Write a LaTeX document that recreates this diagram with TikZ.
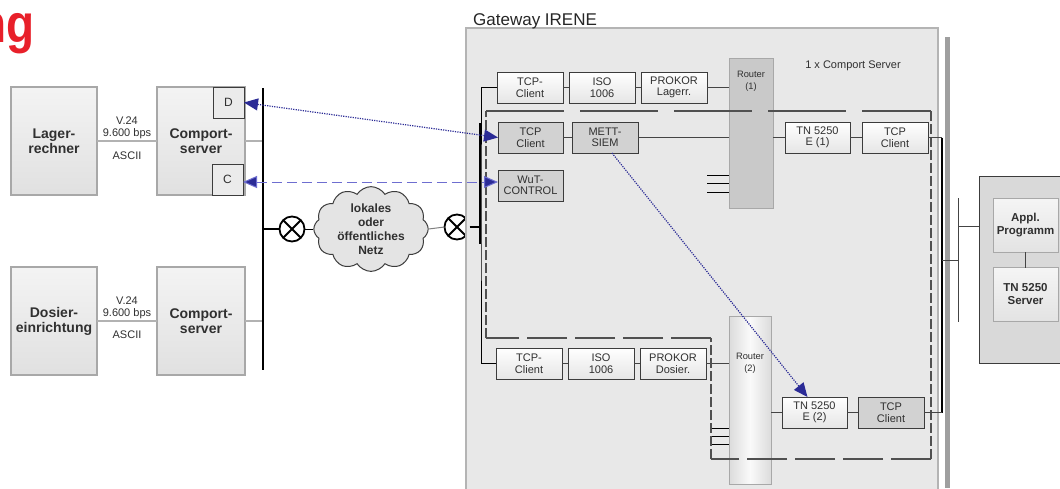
\documentclass[tikz,border=0pt]{standalone}
\usepackage{fontspec}
\setmainfont{Liberation Sans}
\usetikzlibrary{arrows.meta,shapes.symbols,calc}

\definecolor{titlered}{HTML}{E8202A}
\definecolor{gwfill}{HTML}{E8E8E8}
\definecolor{gwedge}{HTML}{B4B4B4}
\definecolor{boxedge}{HTML}{A8A8A8}
\definecolor{darkedge}{HTML}{3C3C3C}
\definecolor{linegrey}{HTML}{444444}
\definecolor{txt}{HTML}{303030}
\definecolor{framegrey}{HTML}{505050}
\definecolor{arrowblue}{HTML}{2B2B96}
\definecolor{dashblue}{HTML}{6E6ED0}
\definecolor{greybox}{HTML}{D2D2D2}
\definecolor{routerfill}{HTML}{C9C9C9}
\definecolor{cloudfill}{HTML}{E4E4E4}

\begin{document}
\begin{tikzpicture}[x=1pt,y=-1pt,
  lnk/.style={draw=linegrey,line width=0.9pt},
  bigbox/.style={draw=boxedge,line width=1.2pt,top color=gray!9,bottom color=gray!24,
    minimum width=86pt,minimum height=108pt,inner sep=0pt,outer sep=0pt,align=center,
    text=txt,font=\bfseries\fontsize{14}{15}\selectfont},
  portbox/.style={draw=darkedge,line width=1pt,fill=gray!16,minimum width=31pt,minimum height=31pt,
    inner sep=0pt,outer sep=0pt,text=txt,font=\fontsize{12}{13}\selectfont},
  speedlbl/.style={inner sep=0pt,text=txt,font=\fontsize{11}{12}\selectfont},
  gwbase/.style={draw=darkedge,line width=1pt,minimum width=66pt,minimum height=31pt,
    inner sep=0pt,outer sep=0pt,align=center,text=txt,font=\fontsize{11}{11.5}\selectfont},
  gwbox/.style={gwbase,top color=white,bottom color=gray!20},
  gwgrey/.style={gwbase,fill=greybox},
  router/.style={draw=boxedge,line width=1pt,inner sep=0pt,outer sep=0pt},
  routerlbl/.style={inner sep=0pt,align=center,text=txt,font=\fontsize{9.3}{12}\selectfont},
  xcirc/.style={circle,draw=black,line width=1.8pt,fill=white,minimum size=25pt,inner sep=0pt,outer sep=0pt,
    path picture={\draw[line width=1.8pt]
      (path picture bounding box.south west) -- (path picture bounding box.north east)
      (path picture bounding box.north west) -- (path picture bounding box.south east);}},
  dotarrow/.style={draw=arrowblue,line width=1.2pt,dash pattern=on 1.2pt off 1.2pt,
    {Triangle[length=14pt,width=12pt]}-{Triangle[length=14pt,width=12pt]},arrowblue},
  dasharrow/.style={draw=dashblue,line width=1pt,dash pattern=on 10pt off 5pt,
    {Triangle[length=14pt,width=12pt,fill=arrowblue]}-{Triangle[length=14pt,width=12pt,fill=arrowblue]}},
  framelong/.style={draw=framegrey,line width=1.3pt,dash pattern=on 78pt off 16pt},
  framemid/.style={draw=framegrey,line width=1.3pt,dash pattern=on 40pt off 8pt},
  frameshort/.style={draw=framegrey,line width=1.3pt,dash pattern=on 10pt off 3pt},
  rightbox/.style={draw=darkedge,line width=1pt,fill=gray!30,inner sep=0pt,outer sep=0pt},
  appbox/.style={draw=boxedge,line width=1pt,top color=gray!8,bottom color=gray!22,
    minimum width=65pt,minimum height=54pt,inner sep=0pt,outer sep=0pt,align=center,
    text=txt,font=\bfseries\fontsize{11.5}{13}\selectfont}]

\useasboundingbox (0,0) rectangle (1060,488);
\clip (0,0) rectangle (1060,488);
\fill[white] (0,0) rectangle (1060,488);

% heading fragment
\node[anchor=base east,inner sep=0pt,text=titlered,font=\bfseries\fontsize{54}{54}\selectfont] (title) at (35,42) {\scalebox{0.85}[1]{ng}};

% ---------- left side: hosts and comport servers ----------
\node[bigbox] (lager) at (54,141) {Lager-\\rechner};
\node[bigbox,minimum width=88pt] (cs1) at (201,141) {Comport-\\server};
\node[portbox] (D) at (228.5,102.5) {D};
\node[portbox] (C) at (227.5,179.5) {C};

\node[bigbox] (dosier) at (54,321) {Dosier-\\einrichtung};
\node[bigbox,minimum width=88pt] (cs2) at (201,321) {Comport-\\server};

\draw[draw=gray!60,line width=1.2pt] (lager.east) -- (cs1.west);
\draw[draw=gray!60,line width=1.2pt] (dosier.east) -- (cs2.west);
\node[speedlbl] (v1) at (127,121) {V.24};
\node[speedlbl] (b1) at (127,134) {9.600 bps};
\node[speedlbl] (a1) at (127,156) {ASCII};
\node[speedlbl] (v2) at (127,301) {V.24};
\node[speedlbl] (b2) at (127,314) {9.600 bps};
\node[speedlbl] (a2) at (127,335) {ASCII};

% local bus
\coordinate (busT) at (263,88);
\coordinate (busB) at (263,370);
\draw[draw=gray!60,line width=1.2pt] (cs1.east) -- (cs1.east -| busT);
\draw[draw=gray!60,line width=1.2pt] (cs2.east) -- (cs2.east -| busT);
\draw[line width=2pt] (busT) -- (busB);

% network path
\node[xcirc] (x1) at (292,229) {};
\node[cloud,cloud puffs=12,cloud puff arc=115,aspect=1.5,draw=darkedge,line width=1pt,fill=cloudfill,
  minimum width=104pt,minimum height=70pt,inner sep=0pt,align=center,text=txt,
  font=\bfseries\fontsize{12}{14}\selectfont] (net) at (371,229) {lokales\\oder\\öffentliches\\Netz};
\node[xcirc] (x2) at (457,227) {};
\draw[line width=2pt] (x1.west -| busT) -- (x1.west);
\draw[line width=1pt] (x1.east) -- (net.west);
\draw[draw=gray,line width=1pt] (net.east) -- (x2.west);

% ---------- gateway ----------
\fill[gray!75] (945,37) rectangle (950,488);
\draw[draw=gwedge,fill=gwfill,line width=1.5pt] (466,28) rectangle (938,500);
\node[anchor=base west,inner sep=0pt,text=black!85,font=\fontsize{17}{18}\selectfont] (gwname) at (473,25) {Gateway IRENE};
\node[anchor=center,inner sep=0pt,text=txt,font=\fontsize{11}{12}\selectfont] (cnt) at (853,66) {1 x Comport Server};

\coordinate (gwbusT) at (480,123);
\coordinate (gwbusB) at (480,244);
\draw[line width=2pt] (x2.east) -- (x2.east -| gwbusT);
\draw[line width=2pt] (gwbusT) -- (gwbusB);

% routers
\node[router,fill=routerfill,minimum width=44pt,minimum height=150pt] (r1) at (751,133) {};
\node[routerlbl] (r1l) at (751,81.5) {Router\\(1)};
\node[router,left color=gray!28,right color=gray!28,middle color=gray!4,minimum width=42pt,minimum height=168pt] (r2) at (750,400) {};
\node[routerlbl] (r2l) at (750,363.5) {Router\\(2)};

% row 1: Lager chain
\node[gwbox] (t1) at (530,87.5) {TCP-\\Client};
\node[gwbox] (i1) at (602,87.5) {ISO\\1006};
\node[gwbox] (p1) at (674,87.5) {PROKOR\\Lagerr.};
% row 2: measuring chain
\node[gwgrey,minimum width=65pt] (t2) at (530.5,137.5) {TCP\\Client};
\node[gwgrey] (m2) at (605,137.5) {METT-\\SIEM};
\node[gwbox,minimum width=65pt] (e1) at (817.5,137.5) {TN 5250\\E (1)};
\node[gwbox] (c1) at (895,137.5) {TCP\\Client};
\node[gwgrey,minimum width=65pt] (wut) at (530.5,185.5) {WuT-\\CONTROL};
% row 3: Dosier chain
\node[gwbox] (t3) at (529,363.5) {TCP-\\Client};
\node[gwbox] (i3) at (601,363.5) {ISO\\1006};
\node[gwbox] (p3) at (673,363.5) {PROKOR\\Dosier.};
% row 4
\node[gwbox,minimum width=65pt] (e2) at (814.5,412.5) {TN 5250\\E (2)};
\node[gwgrey] (c2) at (891,412.5) {TCP\\Client};

% internal links
\coordinate (gl) at (481,200);
\draw[line width=1pt] (t1.west) -| (gl) |- (t3.west);
\draw[lnk] (t1.east) -- (i1.west);
\draw[lnk] (i1.east) -- (p1.west);
\draw[lnk] (p1.east) -- (p1.east -| r1.west);
\draw[lnk] (t2.east) -- (m2.west);
\draw[lnk] (m2.east) -- (m2.east -| r1.west);
\draw[lnk] (e1.west -| r1.east) -- (e1.west);
\draw[lnk] (e1.east) -- (c1.west);
\draw[lnk] (t3.east) -- (i3.west);
\draw[lnk] (i3.east) -- (p3.west);
\draw[lnk] (p3.east) -- (p3.east -| r2.west);
\draw[lnk] (e2.west -| r2.east) -- (e2.west);
\draw[lnk] (e2.east) -- (c2.west);

% unused router ports
\foreach \yy in {175,183,192} {
  \coordinate (s) at (707,\yy);
  \draw[line width=1pt] (s) -- (s -| r1.west);
}
\foreach \yy in {428,436,444} {
  \coordinate (s) at (712,\yy);
  \draw[line width=1pt] (s) -- (s -| r2.west);
}

% dashed frame of the comport server group
\coordinate (f1) at (486,111);
\coordinate (f2) at (931,111);
\coordinate (f3) at (931,459);
\coordinate (f4) at (711,459);
\coordinate (f5) at (711,338);
\coordinate (f6) at (486,338);
\draw[framelong] (f1) -- (f2);
\draw[frameshort] (f2) -- (f3);
\draw[framemid] (f3) -- (f4);
\draw[frameshort] (f4) -- (f5);
\draw[framemid] (f5) -- (f6);
\draw[frameshort] (f6) -- (f1);

% uplink to host
\coordinate (up) at (942,0);
\draw[lnk] (c1.east) -- (c1.east -| up);
\draw[line width=2pt] (c1.east -| up) -- (c2.east -| up);
\draw[lnk] (c2.east -| up) -- (c2.east);
\coordinate (hub) at (942,260);
\coordinate (hubR) at (958,260);
\coordinate (hbT) at (958,198);
\coordinate (hbB) at (958,322);
\coordinate (hbL) at (958,226);
\draw[lnk] (hub) -- (hubR);
\draw[lnk] (hbT) -- (hbB);

% ---------- host ----------
\node[rightbox,minimum width=101pt,minimum height=187pt] (host) at (1029.5,269.5) {};
\draw[lnk] (hbL) -- (hbL -| host.west);
\node[appbox] (app) at (1025.5,225) {Appl.\\Programm};
\node[appbox] (tns) at (1025.5,294.5) {TN 5250\\Server};
\draw[lnk] (app.south) -- (tns.north);

% ---------- data flows ----------
\draw[dotarrow] (D.east) -- (t2.west);
\draw[dasharrow] ([yshift=-2.5pt]C.east) -- ([yshift=3.5pt]wut.west);
\draw[draw=arrowblue,line width=1.2pt,dash pattern=on 1.2pt off 1.2pt,-{Triangle[length=14pt,width=12pt]},arrowblue]
  ([xshift=7pt]m2.south) -- ([xshift=-7pt]e2.north);
\end{tikzpicture}
\end{document}
